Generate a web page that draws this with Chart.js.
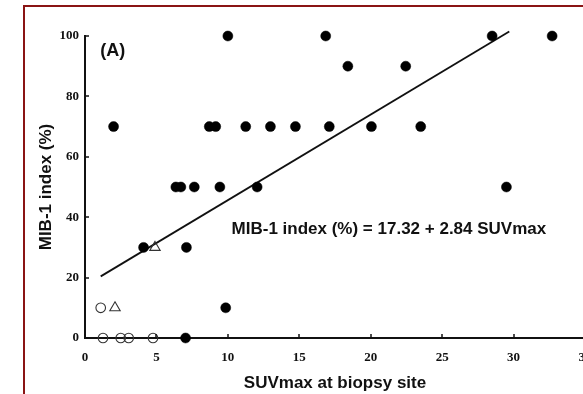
<!DOCTYPE html>
<html>
<head>
<meta charset="utf-8">
<script src="https://cdn.jsdelivr.net/npm/chart.js@4/dist/chart.umd.min.js"></script>
<style>
  html, body { margin: 0; padding: 0; background: #fff; width: 583px; height: 394px; overflow: hidden; }
  #frame { position: absolute; left: 23px; top: 5px; width: 700px; height: 500px; border: 2.5px solid #8a1414; box-sizing: border-box; }
  #wrap { position: absolute; left: 0; top: 0; width: 620px; height: 394px; }
</style>
</head>
<body>
<div id="frame"></div>
<div id="wrap"><canvas id="c" width="620" height="394"></canvas></div>
<script>
// Filled circles (SUVmax, MIB-1 index %)
const filledX = [10.0, 16.85, 28.5, 32.7, 18.4, 22.45, 2.0, 8.7, 9.15, 11.25, 12.98, 14.73, 17.1, 20.05, 23.5, 6.36, 6.71, 7.65, 9.44, 12.05, 29.5, 4.1, 7.1, 9.85, 7.04];
const filledY = [100, 100, 100, 100, 90, 90, 70, 70, 70, 70, 70, 70, 70, 70, 70, 50, 50, 50, 50, 50, 50, 30, 30, 10, 0];
// Open circles
const openX = [1.1, 1.26, 2.5, 3.06, 4.76];
const openY = [10, 0, 0, 0, 0];
// Open triangles
const triX = [4.9, 2.1];
const triY = [30, 10];
// Regression line end points
const lineX = [1.1, 29.7];
const lineY = [20.4, 101.5];
// Axis ticks
const xTicks = [0, 5, 10, 15, 20, 25, 30, 35];
const yTicks = [0, 20, 40, 60, 80, 100];

const xTitle = 'SUVmax at biopsy site';
const yTitle = 'MIB-1 index (%)';
const panelLabel = '(A)';
const equation = 'MIB-1 index (%) = 17.32 + 2.84 SUVmax';

const zip = (xs, ys) => xs.map((x, i) => ({ x, y: ys[i] }));

const annot = {
  id: 'annot',
  afterDatasetsDraw(chart) {
    const ctx = chart.ctx;
    const xs = chart.scales.x, ys = chart.scales.y;
    const ca = chart.chartArea;
    ctx.save();
    // inward tick marks
    ctx.strokeStyle = '#111';
    ctx.lineWidth = 1.5;
    xTicks.forEach(v => {
      const px = Math.round(xs.getPixelForValue(v));
      ctx.beginPath(); ctx.moveTo(px, ca.bottom); ctx.lineTo(px, ca.bottom - 4); ctx.stroke();
    });
    yTicks.forEach(v => {
      const py = Math.round(ys.getPixelForValue(v));
      ctx.beginPath(); ctx.moveTo(ca.left, py); ctx.lineTo(ca.left + 4, py); ctx.stroke();
    });
    ctx.fillStyle = '#111';
    ctx.textBaseline = 'middle';
    ctx.font = 'bold 18px "Liberation Sans", Arial, sans-serif';
    ctx.textAlign = 'center';
    ctx.fillText(panelLabel, xs.getPixelForValue(1.95), ys.getPixelForValue(95));
    ctx.font = 'bold 17px "Liberation Sans", Arial, sans-serif';
    ctx.textAlign = 'left';
    ctx.fillText(equation, xs.getPixelForValue(10.26), ys.getPixelForValue(36));
    ctx.restore();
  }
};

new Chart(document.getElementById('c'), {
  type: 'scatter',
  data: {
    datasets: [
      { data: zip(lineX, lineY), showLine: true, borderColor: '#111', borderWidth: 1.8, pointRadius: 0, clip: false, order: 4 },
      { data: zip(filledX, filledY), pointStyle: 'circle', pointRadius: 5, backgroundColor: '#000', borderColor: '#000', borderWidth: 0.5, clip: false, order: 1 },
      { data: zip(openX, openY), pointStyle: 'circle', pointRadius: 4.8, backgroundColor: 'rgba(0,0,0,0)', borderColor: '#333', borderWidth: 1.1, clip: false, order: 2 },
      { data: zip(triX, triY), pointStyle: 'triangle', pointRadius: 6, backgroundColor: 'rgba(0,0,0,0)', borderColor: '#333', borderWidth: 1.1, clip: false, order: 3 }
    ]
  },
  options: {
    responsive: false,
    animation: false,
    events: [],
    layout: { padding: { left: 0, top: 36, right: 35, bottom: 0 } },
    plugins: { legend: { display: false }, tooltip: { enabled: false } },
    scales: {
      x: {
        type: 'linear', min: 0, max: 35,
        afterFit: s => { s.height = 56; },
        afterBuildTicks: s => { s.ticks = xTicks.map(v => ({ value: v })); },
        grid: { display: false, drawTicks: false },
        border: { display: true, color: '#111', width: 2 },
        ticks: { color: '#111', padding: 12, font: { family: '"Liberation Serif", "Times New Roman", serif', size: 13, weight: 'bold' } },
        title: { display: true, text: xTitle, color: '#111', padding: { top: 0, bottom: 0 }, font: { family: '"Liberation Sans", Arial, sans-serif', size: 17, weight: 'bold' } }
      },
      y: {
        type: 'linear', min: 0, max: 100,
        afterFit: s => { s.width = 85; },
        afterBuildTicks: s => { s.ticks = yTicks.map(v => ({ value: v })); },
        grid: { display: false, drawTicks: false },
        border: { display: true, color: '#111', width: 2 },
        ticks: { color: '#111', padding: 6, font: { family: '"Liberation Serif", "Times New Roman", serif', size: 13, weight: 'bold' } },
        title: { display: true, text: yTitle, color: '#111', padding: { top: 36, bottom: 0 }, font: { family: '"Liberation Sans", Arial, sans-serif', size: 17, weight: 'bold' } }
      }
    }
  },
  plugins: [annot]
});
</script>
</body>
</html>
